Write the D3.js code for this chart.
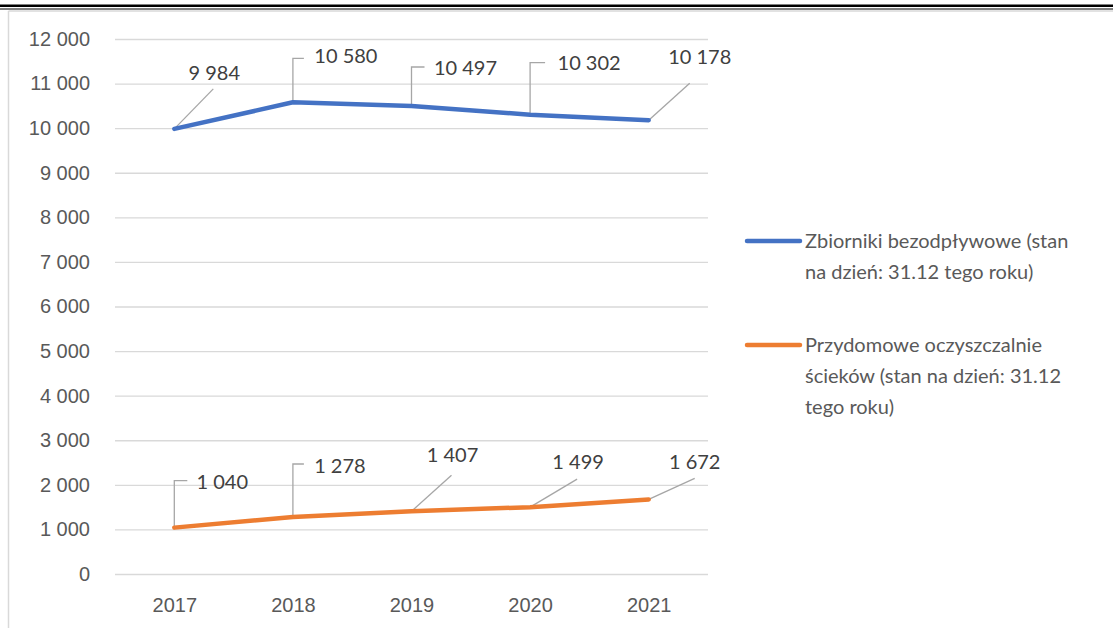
<!DOCTYPE html>
<html>
<head>
<meta charset="utf-8">
<script src="https://cdn.jsdelivr.net/npm/d3@7"></script>
<style>
  html, body { margin: 0; padding: 0; background: #fff; }
  svg { display: block; font-family: Lato, "Open Sans", sans-serif; }
</style>
</head>
<body>
<script>
// data
var years = ["2017", "2018", "2019", "2020", "2021"];
var zbiorniki = [9984, 10580, 10497, 10302, 10178];
var oczyszczalnie = [1040, 1278, 1407, 1499, 1672];
var yTicks = [0, 1000, 2000, 3000, 4000, 5000, 6000, 7000, 8000, 9000, 10000, 11000, 12000];
var seriesNames = [
  ["Zbiorniki bezodpływowe (stan", "na dzień: 31.12 tego roku)"],
  ["Przydomowe oczyszczalnie", "ścieków (stan na dzień: 31.12", "tego roku)"]
];
var colors = ["#4472c4", "#ed7d31"];

// where the (hand-moved) data labels sit, relative to their point:
// [text dx, text dy, leader kind, leader dx, leader dy]
var labelPos = [
  [[40, -56, "diag", 39, -40], [53, -46, "elbow", 11, -44], [54, -38, "elbow", 13, -39],
   [59, -52, "elbow", 15, -52], [51, -63, "diag", 41, -37]],
  [[48, -46, "elbow", 13, -47], [47, -51, "elbow", 11, -53], [41, -56, "diag", 40, -36],
   [48, -45, "diag", 47, -28], [46, -37, "diag", 46, -21]]
];

var width = 1113, height = 628;
var margin = {left: 115, right: 405, top: 39, bottom: 54};

var svg = d3.select("body").append("svg")
  .attr("width", width)
  .attr("height", height);

// document rules and chart frame
svg.append("rect").attr("x", 0).attr("y", 4.5).attr("width", width).attr("height", 2.5).attr("fill", "#000");
svg.append("rect").attr("x", 0).attr("y", 8.5).attr("width", width).attr("height", 1).attr("fill", "#000");
svg.append("line").attr("x1", 8.5).attr("x2", width).attr("y1", 11).attr("y2", 11)
  .attr("stroke", "#d9d9d9").attr("stroke-width", 1.5);
svg.append("line").attr("x1", 8.5).attr("x2", 8.5).attr("y1", 11).attr("y2", height)
  .attr("stroke", "#d9d9d9").attr("stroke-width", 1.5);

var x = d3.scalePoint()
  .domain(years)
  .range([margin.left, width - margin.right])
  .padding(0.5);

var y = d3.scaleLinear()
  .domain([0, 12000])
  .range([height - margin.bottom, margin.top]);

var fmt = d3.formatLocale({decimal: ",", thousands: " ", grouping: [3]}).format(",");

// gridlines + y labels
var yAxis = d3.axisLeft(y)
  .tickValues(yTicks)
  .tickFormat(fmt)
  .tickSize(-(width - margin.right - margin.left))
  .tickPadding(25);

var gy = svg.append("g")
  .attr("transform", "translate(" + margin.left + ",0)")
  .call(yAxis);
gy.select(".domain").remove();
gy.selectAll("line").attr("stroke", "#d9d9d9").attr("stroke-width", 1.3);
gy.selectAll("text").attr("fill", "#595959").attr("font-size", 20);

// x labels
var xAxis = d3.axisBottom(x).tickSize(0).tickPadding(24);
var gx = svg.append("g")
  .attr("transform", "translate(0," + (height - margin.bottom) + ")")
  .call(xAxis);
gx.select(".domain").remove();
gx.selectAll("text").attr("fill", "#595959").attr("font-size", 20);

var line = d3.line()
  .x(function(d, i) { return x(years[i]); })
  .y(function(d) { return y(d); });

[zbiorniki, oczyszczalnie].forEach(function(values, s) {
  var g = svg.append("g");

  // leader lines first so the series line sits on top
  values.forEach(function(v, i) {
    var px = x(years[i]), py = y(v), p = labelPos[s][i];
    var d = p[2] == "elbow"
      ? "M" + px + "," + py + "V" + (py + p[4]) + "H" + (px + p[3])
      : "M" + px + "," + py + "L" + (px + p[3]) + "," + (py + p[4]);
    g.append("path")
      .attr("d", d)
      .attr("fill", "none")
      .attr("stroke", "#a6a6a6")
      .attr("stroke-width", 1.3);
  });

  g.append("path")
    .datum(values)
    .attr("d", line)
    .attr("fill", "none")
    .attr("stroke", colors[s])
    .attr("stroke-width", 4.5)
    .attr("stroke-linecap", "round")
    .attr("stroke-linejoin", "round");

  g.selectAll("text.lbl")
    .data(values)
    .enter().append("text")
    .attr("class", "lbl")
    .attr("x", function(d, i) { return x(years[i]) + labelPos[s][i][0]; })
    .attr("y", function(d, i) { return y(d) + labelPos[s][i][1]; })
    .attr("dy", "0.35em")
    .attr("text-anchor", "middle")
    .attr("fill", "#404040")
    .attr("font-size", 20)
    .text(fmt);
});

// legend
var legendY = [241, 345];
seriesNames.forEach(function(lines, s) {
  var lg = svg.append("g").attr("transform", "translate(747," + legendY[s] + ")");
  lg.append("line")
    .attr("x1", 0).attr("x2", 53)
    .attr("stroke", colors[s])
    .attr("stroke-width", 4.5)
    .attr("stroke-linecap", "round");
  lg.selectAll("text")
    .data(lines)
    .enter().append("text")
    .attr("x", 58)
    .attr("y", function(d, i) { return i * 31; })
    .attr("dy", "0.35em")
    .attr("fill", "#595959")
    .attr("font-size", 20)
    .text(function(d) { return d; });
});
</script>
</body>
</html>
